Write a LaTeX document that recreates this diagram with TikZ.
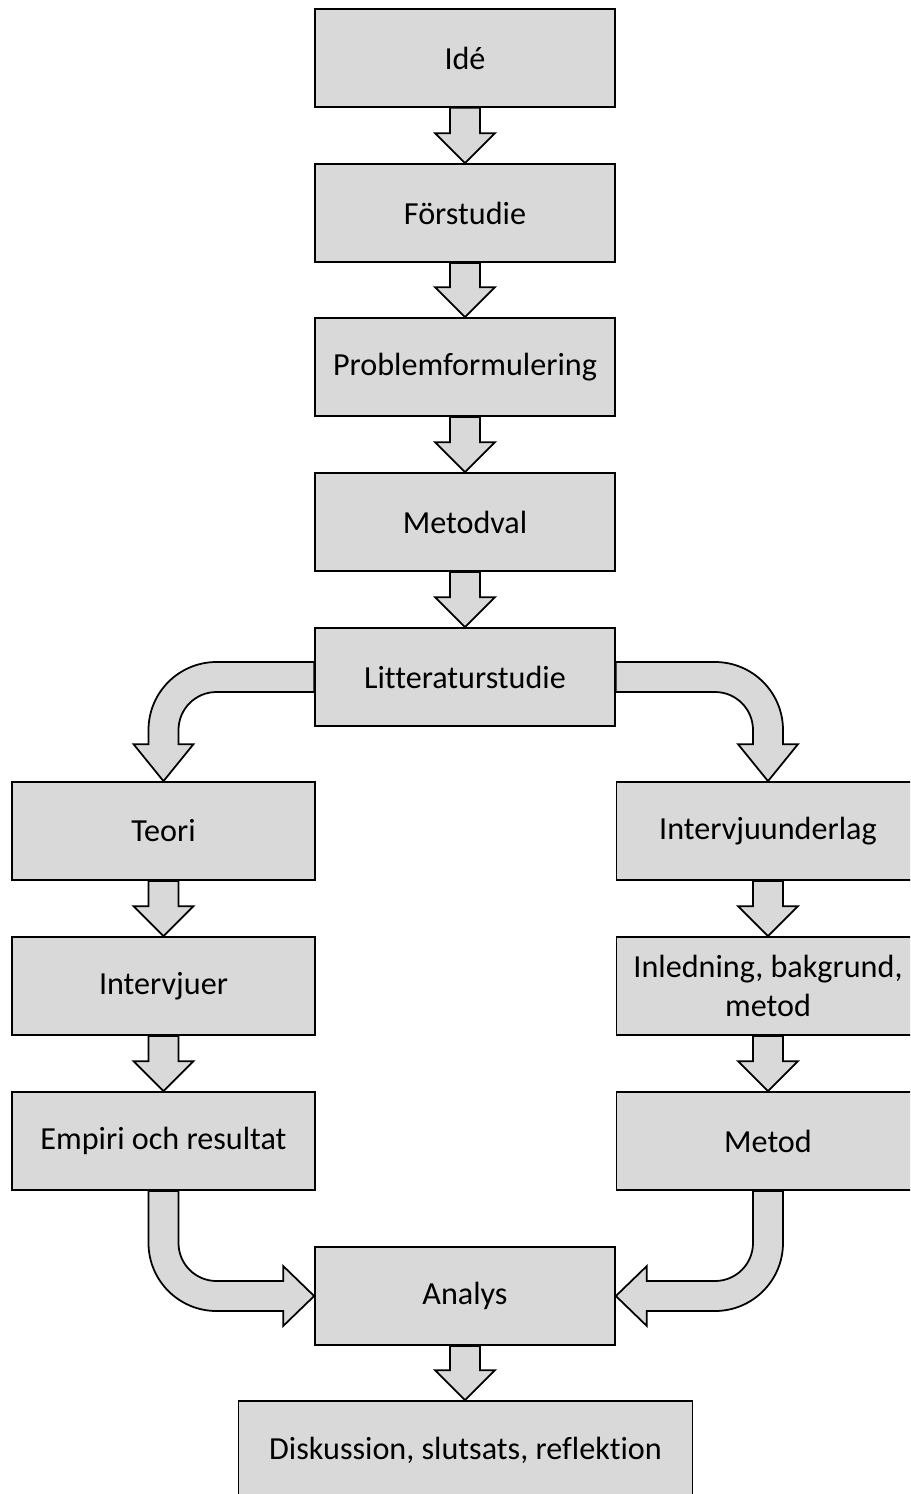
\documentclass[tikz,border=0pt]{standalone}
\usepackage{fontspec}
\setmainfont{Carlito}[Ligatures=NoCommon]
\usetikzlibrary{calc}
\definecolor{boxgray}{HTML}{D9D9D9}

\newcommand{\flowarrow}[2]{%
  \draw[arrowblock] let \p1=(#1.south), \p2=(#2.north) in
    (\x1-0.3cm,\y1) -- (\x1-0.3cm,\y2+0.6cm) -- (\x1-0.6cm,\y2+0.6cm) -- (\x1,\y2)
    -- (\x1+0.6cm,\y2+0.6cm) -- (\x1+0.3cm,\y2+0.6cm) -- (\x1+0.3cm,\y1) -- cycle;}

\begin{document}
\begin{tikzpicture}[x=0.02cm,y=0.02cm,
    box/.style={draw=black,fill=boxgray,line width=1pt,minimum width=6cm,minimum height=1.96cm,
      inner sep=2pt,align=center,font=\fontsize{18.3}{22.4}\selectfont},
    sidebox/.style={box,minimum width=6.06cm},
    arrowblock/.style={draw=black,fill=boxgray,line width=1pt,line join=miter}]
  \useasboundingbox (0,0) rectangle (910,-1494);
  \clip (0,0) rectangle (910,-1494);
  \node[box] (ide) at (465,-58) {Idé};
  \node[box] (forst) at (465,-213) {Förstudie};
  \node[box] (prob) at (465,-367) {Problemformulering};
  \node[box] (metodval) at (465,-522) {Metodval};
  \node[box] (lit) at (465,-677) {Litteraturstudie};
  \node[sidebox] (teori) at (163.5,-831) {Teori};
  \node[sidebox] (intu) at (768,-831) {Intervjuunderlag};
  \node[sidebox] (intervjuer) at (163.5,-986) {Intervjuer};
  \node[sidebox] (inled) at (768,-986) {Inledning, bakgrund,\\metod};
  \node[sidebox] (empiri) at (163.5,-1141) {Empiri och resultat};
  \node[sidebox] (metod) at (768,-1141) {Metod};
  \node[box] (analys) at (465,-1296) {Analys};
  \node[box,minimum width=9.08cm] (disk) at (465.5,-1450) {Diskussion, slutsats, reflektion};
  \flowarrow{ide}{forst}
  \flowarrow{forst}{prob}
  \flowarrow{prob}{metodval}
  \flowarrow{metodval}{lit}
  \flowarrow{teori}{intervjuer}
  \flowarrow{intervjuer}{empiri}
  \flowarrow{intu}{inled}
  \flowarrow{inled}{metod}
  \flowarrow{analys}{disk}
  \draw[arrowblock] let \p1=(lit.west), \p2=(teori.north) in
    (\x1,\y1+0.3cm) -- (\x2+1.06cm,\y1+0.3cm) arc[start angle=90,end angle=180,radius=1.36cm]
    -- (\x2-0.3cm,\y2+0.74cm) -- (\x2-0.6cm,\y2+0.74cm) -- (\x2,\y2) -- (\x2+0.6cm,\y2+0.74cm)
    -- (\x2+0.3cm,\y2+0.74cm) -- (\x2+0.3cm,\y1-1.06cm) arc[start angle=180,end angle=90,radius=0.76cm]
    -- (\x1,\y1-0.3cm) -- cycle;
  \draw[arrowblock] let \p1=(lit.east), \p2=(intu.north) in
    (\x1,\y1+0.3cm) -- (\x2-1.06cm,\y1+0.3cm) arc[start angle=90,end angle=0,radius=1.36cm]
    -- (\x2+0.3cm,\y2+0.74cm) -- (\x2+0.6cm,\y2+0.74cm) -- (\x2,\y2) -- (\x2-0.6cm,\y2+0.74cm)
    -- (\x2-0.3cm,\y2+0.74cm) -- (\x2-0.3cm,\y1-1.06cm) arc[start angle=0,end angle=90,radius=0.76cm]
    -- (\x1,\y1-0.3cm) -- cycle;
  \draw[arrowblock] let \p1=(empiri.south), \p2=(analys.west) in
    (\x1-0.3cm,\y1) -- (\x1-0.3cm,\y2+1.06cm) arc[start angle=180,end angle=270,radius=1.36cm]
    -- (\x2-0.62cm,\y2-0.3cm) -- (\x2-0.62cm,\y2-0.6cm) -- (\x2,\y2) -- (\x2-0.62cm,\y2+0.6cm)
    -- (\x2-0.62cm,\y2+0.3cm) -- (\x1+1.06cm,\y2+0.3cm) arc[start angle=270,end angle=180,radius=0.76cm]
    -- (\x1+0.3cm,\y1) -- cycle;
  \draw[arrowblock] let \p1=(metod.south), \p2=(analys.east) in
    (\x1+0.3cm,\y1) -- (\x1+0.3cm,\y2+1.06cm) arc[start angle=0,end angle=-90,radius=1.36cm]
    -- (\x2+0.62cm,\y2-0.3cm) -- (\x2+0.62cm,\y2-0.6cm) -- (\x2,\y2) -- (\x2+0.62cm,\y2+0.6cm)
    -- (\x2+0.62cm,\y2+0.3cm) -- (\x1-1.06cm,\y2+0.3cm) arc[start angle=-90,end angle=0,radius=0.76cm]
    -- (\x1-0.3cm,\y1) -- cycle;
\end{tikzpicture}
\end{document}
